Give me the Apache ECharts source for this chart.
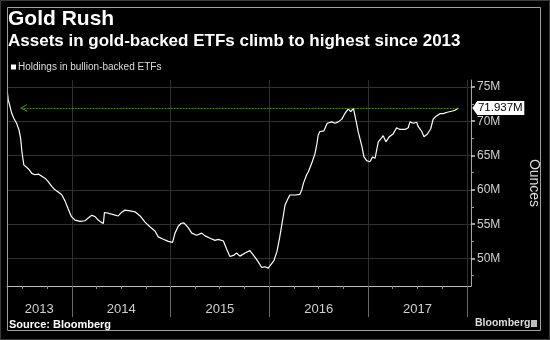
<!DOCTYPE html>
<html>
<head>
<meta charset="utf-8">
<script src="https://cdn.jsdelivr.net/npm/echarts@6/dist/echarts.min.js"></script>
<style>
  html, body { margin: 0; padding: 0; background: #000; }
  #chart { width: 550px; height: 340px; }
</style>
</head>
<body>
<div id="chart"></div>
<script>
// Holdings in bullion-backed ETFs, millions of troy ounces
const dates = [
  '2013-05-07','2013-05-10','2013-05-17','2013-05-23','2013-05-31','2013-06-10','2013-06-19','2013-06-25',
  '2013-06-29','2013-07-03','2013-07-07','2013-07-17','2013-07-27','2013-08-05','2013-08-17','2013-08-29',
  '2013-09-11','2013-09-23','2013-10-05','2013-10-18','2013-10-30','2013-11-11','2013-11-24','2013-12-06',
  '2013-12-18','2013-12-30','2014-01-12','2014-01-31','2014-02-18','2014-03-02','2014-03-15','2014-03-27',
  '2014-04-08','2014-04-18','2014-04-27','2014-05-01','2014-05-15','2014-06-03','2014-06-21','2014-07-04',
  '2014-07-16','2014-08-04','2014-08-22','2014-09-10','2014-09-28','2014-10-17','2014-11-04','2014-11-16',
  '2014-12-05','2014-12-23','2015-01-08','2015-01-17','2015-01-29','2015-02-08','2015-02-19','2015-03-07',
  '2015-03-20','2015-04-07','2015-04-26','2015-05-08','2015-05-27','2015-06-14','2015-06-26','2015-07-15',
  '2015-07-27','2015-08-08','2015-08-21','2015-09-02','2015-09-14','2015-10-03','2015-10-21','2015-11-03',
  '2015-11-16','2015-12-04','2015-12-16','2015-12-28','2016-01-03','2016-01-18','2016-01-29','2016-02-08',
  '2016-02-16','2016-02-22','2016-02-28','2016-03-11','2016-03-17','2016-04-05','2016-04-23','2016-04-30',
  '2016-05-06','2016-05-18','2016-05-24','2016-06-06','2016-06-18','2016-06-24','2016-06-30','2016-07-06',
  '2016-07-21','2016-08-02','2016-08-19','2016-08-31','2016-09-12','2016-09-25','2016-10-07','2016-10-19',
  '2016-10-28','2016-11-07','2016-11-16','2016-11-25','2016-12-08','2016-12-16','2016-12-26','2017-01-07',
  '2017-01-17','2017-01-26','2017-02-07','2017-02-20','2017-02-25','2017-03-07','2017-03-20','2017-04-03',
  '2017-04-16','2017-04-28','2017-05-17','2017-05-29','2017-06-04','2017-06-16','2017-06-29','2017-07-05',
  '2017-07-18','2017-07-26','2017-08-07','2017-08-20','2017-08-29','2017-09-08','2017-09-23','2017-10-05',
  '2017-10-20','2017-11-05','2017-11-18','2017-11-30'
];
const holdings = [
  74.2, 73.1, 72.1, 71.15, 70.4, 69.7, 68.7, 67.5,
  65.8, 64.6, 63.6, 63.3, 62.9, 62.4, 62.2, 62.3,
  62.0, 61.7, 61.2, 60.5, 60.0, 59.7, 59.3, 58.4,
  57.2, 56.1, 55.6, 55.4, 55.5, 55.9, 56.3, 56.1,
  55.6, 55.3, 55.1, 56.7, 56.6, 56.4, 56.2, 56.75,
  57.05, 56.95, 56.8, 56.2, 55.3, 54.6, 54.0, 53.15,
  52.8, 52.5, 52.35, 53.7, 54.7, 55.1, 55.2, 54.5,
  53.7, 53.4, 53.7, 53.3, 52.95, 52.65, 52.8, 52.55,
  51.4, 50.3, 50.45, 50.8, 50.35, 50.8, 51.15, 50.5,
  49.8, 48.7, 48.8, 48.6, 48.35, 49.7, 51.0, 53.0,
  54.9, 56.3, 57.8, 58.8, 59.25, 59.25, 59.35, 60.0,
  60.95, 62.2, 62.6, 63.9, 65.3, 66.5, 68.0, 68.5,
  68.6, 69.7, 69.9, 69.7, 69.9, 70.3, 71.15, 71.8,
  71.4, 71.85, 70.2, 68.4, 66.4, 64.8, 64.25, 64.1,
  64.8, 64.6, 67.0, 67.6, 67.9, 67.0, 67.75, 68.15,
  69.05, 68.8, 68.8, 69.05, 69.9, 69.7, 69.85, 69.2,
  68.5, 67.75, 68.1, 68.9, 70.3, 70.7, 71.1, 71.1,
  71.3, 71.45, 71.6, 71.937
];

// Axis range and tick positions
const axisStart = '2013-05-05T12:00:00';
const axisEnd = '2018-01-16';
const yearStarts = ['2014-01-01', '2015-01-01', '2016-01-01', '2017-01-01', '2018-01-01'];
const quarterTicks = [
  '2013-07-01', '2013-10-01',
  '2014-04-01', '2014-07-01', '2014-10-01',
  '2015-04-01', '2015-07-01', '2015-10-01',
  '2016-04-01', '2016-07-01', '2016-10-01',
  '2017-04-01', '2017-07-01', '2017-10-01'
];
const yearLabelDates = ['2013-09-02', '2014-07-02', '2015-07-02', '2016-07-02', '2017-07-02'];
const yMin = 46, yMax = 76;
const yMajorTicks = [50, 55, 60, 65, 70, 75];
const yMinorTicks = [47.5, 52.5, 57.5, 62.5, 67.5, 72.5];
const arrowStart = '2013-07-06';

const seriesName = 'Holdings in bullion-backed ETFs';
const titleText = 'Gold Rush';
const subtitleText = 'Assets in gold-backed ETFs climb to highest since 2013';

const FONT = '"Liberation Sans", Arial, sans-serif';
const t = s => echarts.time.parse(s).getTime();

const lastDate = dates[dates.length - 1];
const lastValue = holdings[holdings.length - 1];

const chart = echarts.init(document.getElementById('chart'), null, { renderer: 'canvas' });

const gridBox = { left: 7, right: 79, top: 80, bottom: 54 };

chart.setOption({
  backgroundColor: '#000',
  animation: false,
  title: [
    { text: titleText, left: 8, top: 9, padding: 0,
      textStyle: { color: '#fff', fontSize: 21, fontWeight: 'bold', fontFamily: FONT } },
    { text: subtitleText, left: 8, top: 33, padding: 0,
      textStyle: { color: '#fff', fontSize: 17, fontWeight: 'bold', fontFamily: FONT } }
  ],
  legend: {
    data: [seriesName], left: 11, top: 62, padding: 0,
    icon: 'rect', itemWidth: 5, itemHeight: 5, itemGap: 2,
    textStyle: { color: '#ddd', fontSize: 10, fontFamily: FONT, padding: [0, 0, 0, -3] }
  },
  grid: [
    Object.assign({ containLabel: false }, gridBox),
    Object.assign({ containLabel: false }, gridBox)
  ],
  xAxis: [
    {
      type: 'value', gridIndex: 0, min: t(axisStart), max: t(axisEnd),
      axisLine: { show: true, lineStyle: { color: '#bdbdbd', width: 1 } },
      axisTick: { show: true, customValues: yearStarts.map(t), length: 31,
        lineStyle: { color: '#6a6a6a', width: 1 } },
      axisLabel: { show: false },
      splitLine: { show: true, lineStyle: { color: '#303030', width: 1 } }
    },
    {
      type: 'value', gridIndex: 1, min: t(axisStart), max: t(axisEnd),
      axisLine: { show: false },
      axisTick: { show: true, customValues: quarterTicks.map(t), length: 3,
        lineStyle: { color: '#8a8a8a', width: 1 } },
      axisLabel: {
        show: true, customValues: yearLabelDates.map(t), margin: 17,
        color: '#cfcfcf', fontSize: 13, fontFamily: FONT,
        formatter: v => String(new Date(v).getFullYear())
      },
      splitLine: { show: false }
    }
  ],
  yAxis: [
    {
      type: 'value', gridIndex: 0, position: 'right', min: yMin, max: yMax,
      axisLine: { show: true, lineStyle: { color: '#a8a8a8', width: 1 } },
      axisTick: { show: true, customValues: yMajorTicks, length: 4,
        lineStyle: { color: '#d0d0d0', width: 1.5 } },
      axisLabel: { show: true, customValues: yMajorTicks, margin: 6,
        color: '#d0d0d0', fontSize: 12, fontFamily: FONT, formatter: v => v + 'M' },
      splitLine: { show: true, lineStyle: { color: '#303030', width: 1 } },
      name: 'Ounces', nameLocation: 'middle', nameRotate: -90, nameGap: 56,
      nameTextStyle: { color: '#dcdcdc', fontSize: 14, fontFamily: FONT }
    },
    {
      type: 'value', gridIndex: 1, position: 'right', min: yMin, max: yMax,
      axisLine: { show: false },
      axisTick: { show: true, customValues: yMinorTicks, length: 3,
        lineStyle: { color: '#9a9a9a', width: 1 } },
      axisLabel: { show: false },
      splitLine: { show: false }
    }
  ],
  series: [{
    name: seriesName,
    type: 'line',
    xAxisIndex: 0, yAxisIndex: 0,
    data: dates.map((d, i) => [t(d), holdings[i]]),
    showSymbol: false,
    symbol: 'none',
    color: '#ffffff',
    lineStyle: { color: '#ffffff', width: 1.2 },
    z: 3,
    markLine: {
      silent: true,
      symbol: ['path://M0,9 L5,0 L10,9 L8.6,9 L5,2.6 L1.4,9 Z', 'none'],
      symbolSize: [8, 7],
      lineStyle: { color: '#4b8a21', width: 1, type: [2, 1] },
      label: { show: false },
      data: [[
        { coord: [t(arrowStart), lastValue] },
        { coord: [t(lastDate), lastValue] }
      ]]
    },
    markPoint: {
      silent: true,
      symbol: 'path://M0,6.5 L5,0 L52,0 L52,13 L5,13 Z',
      symbolSize: [52, 14],
      symbolOffset: [40, 0],
      itemStyle: { color: '#ffffff' },
      label: {
        show: true, position: 'inside', offset: [2, 0],
        color: '#000', fontSize: 11.5, fontFamily: FONT,
        formatter: p => p.value.toFixed(3) + 'M'
      },
      data: [{ coord: [t(lastDate), lastValue], value: lastValue }]
    }
  }],
  graphic: [
    { type: 'rect', silent: true, z: 100,
      shape: { x: 0.5, y: 0.5, width: 549, height: 339 },
      style: { fill: null, stroke: '#3c3c3c', lineWidth: 1 } },
    { type: 'rect', silent: true, z: 100,
      shape: { x: 7.5, y: 7.5, width: 533, height: 323 },
      style: { fill: null, stroke: '#a0a0a0', lineWidth: 1 } },
    { type: 'text', silent: true, left: 9, top: 319, z: 100,
      style: { text: 'Source: Bloomberg', fill: '#ffffff', font: 'bold 11px ' + FONT } },
    { type: 'text', silent: true, left: 475, top: 318, z: 100,
      style: { text: 'Bloomberg', fill: '#dcdcdc', font: 'bold 10.5px ' + FONT } },
    { type: 'rect', silent: true, z: 100,
      shape: { x: 531, y: 320, width: 6, height: 7 },
      style: { fill: '#bdbdbd' } }
  ]
});
</script>
</body>
</html>
